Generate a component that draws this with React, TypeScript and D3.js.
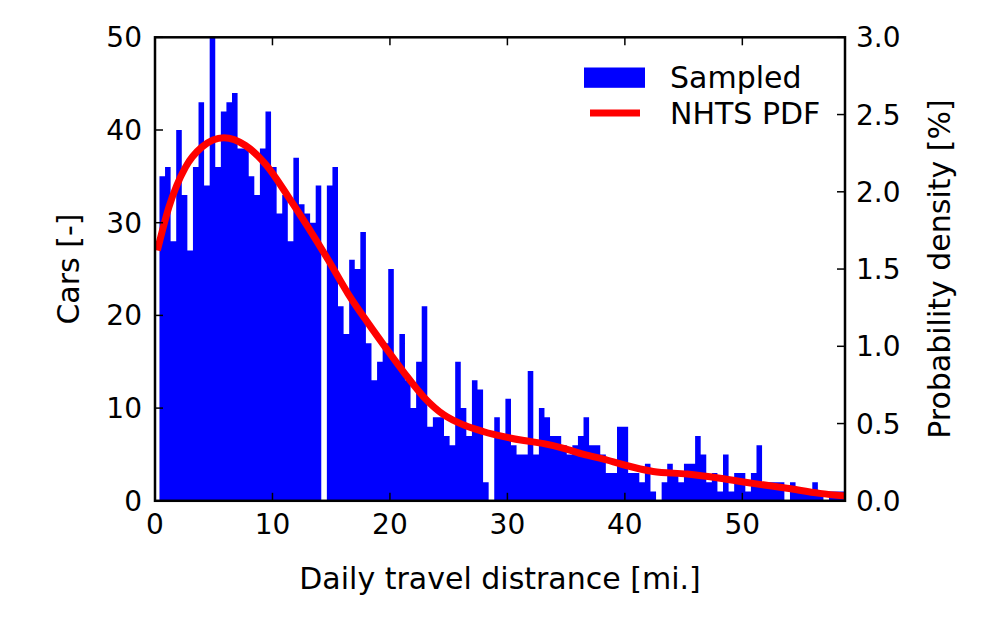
import React from "react";
import * as d3 from "d3";

// Histogram: counts per bin (bins start at BIN_START, width BIN_WIDTH, miles)
const BIN_START = 0.38;
const BIN_WIDTH = 0.475;
const counts: number[] = [
  35, 36, 28, 40, 33, 27, 36, 43, 34, 50, 36, 42, 43, 44, 38, 38, 35, 33, 38, 42,
  36, 31, 33, 28, 37, 32, 31, 30, 34, 0, 34, 36, 21, 18, 26, 25, 29, 17, 13, 15,
  17, 25, 15, 18, 13, 10, 15, 21, 8, 9, 9, 7, 6, 15, 10, 7, 13, 12, 2, 0,
  9, 7, 11, 6, 5, 5, 14, 5, 10, 9, 7, 7, 6, 5, 6, 7, 9, 6, 6, 5,
  3, 3, 8, 8, 3, 3, 2, 4, 1, 0, 2, 4, 3, 2, 4, 4, 7, 5, 2, 3,
  1, 5, 1, 3, 3, 1, 3, 6, 2, 2, 2, 2, 0, 2, 1, 1, 1, 2, 1, 0, 1, 1, 1,
];

// NHTS PDF (% probability density) sampled along distance (mi)
const pdfMiles: number[] = [
  0.2, 1.18, 2.6, 4.0, 5.86, 7.7, 9.5, 11.33, 13.04, 14.74, 16.44, 18.14, 19.6,
  21.2, 22.9, 24.6, 26.3, 28.0, 29.7, 31.4, 33.1, 34.8, 36.5, 38.2, 39.8, 42.4,
  45.3, 48.1, 50.9, 53.8, 56.6, 58.74,
];
const pdfValues: number[] = [
  1.62, 1.9, 2.16, 2.29, 2.35, 2.3, 2.17, 1.97, 1.77, 1.56, 1.34, 1.15, 0.995,
  0.83, 0.67, 0.556, 0.49, 0.447, 0.415, 0.39, 0.37, 0.34, 0.3, 0.27, 0.235,
  0.19, 0.173, 0.146, 0.113, 0.081, 0.048, 0.031,
];

const xTicks = [0, 10, 20, 30, 40, 50];
const yLeftTicks = [0, 10, 20, 30, 40, 50];
const yRightTicks = [0, 0.5, 1.0, 1.5, 2.0, 2.5, 3.0];

const X_MAX = 58.74;
const LEFT = 155;
const RIGHT = 845;
const TOP = 37.3;
const BOTTOM = 500.8;

const FONT = "DejaVu Sans, sans-serif";
const BLUE = "#0000ff";
const RED = "#ff0000";

export default function App() {
  const x = d3.scaleLinear().domain([0, X_MAX]).range([LEFT, RIGHT]);
  const yL = d3.scaleLinear().domain([0, 50]).range([BOTTOM, TOP]);
  const yR = d3.scaleLinear().domain([0, 3]).range([BOTTOM, TOP]);

  const line = d3
    .line<number>()
    .x((_, i) => x(pdfMiles[i]))
    .y((d) => yR(d))
    .curve(d3.curveMonotoneX);

  const steps: [number, number][] = counts.map((c, i) => [BIN_START + i * BIN_WIDTH, c]);
  steps.push([BIN_START + counts.length * BIN_WIDTH, counts[counts.length - 1]]);
  const area = d3
    .area<[number, number]>()
    .x((d) => x(d[0]))
    .y0(BOTTOM)
    .y1((d) => yL(d[1]))
    .curve(d3.curveStepAfter);

  const tickLen = 8;
  const fs = 28;
  const fl = 30;

  return (
    <svg
      width={998}
      height={617}
      style={{ position: "absolute", left: 0, top: 0, background: "#fff" }}
    >
      <defs>
        <clipPath id="plot">
          <rect x={LEFT} y={TOP} width={RIGHT - LEFT} height={BOTTOM - TOP} />
        </clipPath>
      </defs>
      <g clipPath="url(#plot)">
        <path d={area(steps) || ""} fill={BLUE} />
        <path
          d={line(pdfValues) || ""}
          fill="none"
          stroke={RED}
          strokeWidth={7}
          strokeLinejoin="round"
        />
      </g>
      {/* spines */}
      <rect
        x={LEFT}
        y={TOP}
        width={RIGHT - LEFT}
        height={BOTTOM - TOP}
        fill="none"
        stroke="#000"
        strokeWidth={2.5}
      />
      {/* x ticks */}
      {xTicks.map((t) => (
        <g key={"x" + t}>
          <line x1={x(t)} x2={x(t)} y1={BOTTOM} y2={BOTTOM - tickLen} stroke="#000" strokeWidth={1.5} />
          <line x1={x(t)} x2={x(t)} y1={TOP} y2={TOP + tickLen} stroke="#000" strokeWidth={1.5} />
          <text
            x={x(t)}
            y={BOTTOM + 33}
            textAnchor="middle"
            fontFamily={FONT}
            fontSize={fs}
            fill="#000"
          >
            {t}
          </text>
        </g>
      ))}
      {yLeftTicks.map((t) => (
        <g key={"yl" + t}>
          <line x1={LEFT} x2={LEFT + tickLen} y1={yL(t)} y2={yL(t)} stroke="#000" strokeWidth={1.5} />
          <text
            x={LEFT - 13}
            y={yL(t)}
            dy="0.36em"
            textAnchor="end"
            fontFamily={FONT}
            fontSize={fs}
            fill="#000"
          >
            {t}
          </text>
        </g>
      ))}
      {yRightTicks.map((t) => (
        <g key={"yr" + t}>
          <line x1={RIGHT} x2={RIGHT - tickLen} y1={yR(t)} y2={yR(t)} stroke="#000" strokeWidth={1.5} />
          <text
            x={RIGHT + 11}
            y={yR(t)}
            dy="0.36em"
            textAnchor="start"
            fontFamily={FONT}
            fontSize={fs}
            fill="#000"
          >
            {t.toFixed(1)}
          </text>
        </g>
      ))}
      {/* axis titles */}
      <text
        x={(LEFT + RIGHT) / 2 - 0}
        y={589}
        textAnchor="middle"
        fontFamily={FONT}
        fontSize={fl}
        fill="#000"
      >
        Daily travel distrance [mi.]
      </text>
      <text
        transform={`translate(79, ${(TOP + BOTTOM) / 2}) rotate(-90)`}
        textAnchor="middle"
        fontFamily={FONT}
        fontSize={fl}
        fill="#000"
      >
        Cars [-]
      </text>
      <text
        transform={`translate(950, ${(TOP + BOTTOM) / 2}) rotate(-90)`}
        textAnchor="middle"
        fontFamily={FONT}
        fontSize={fl}
        fill="#000"
      >
        Probability density [%]
      </text>
      {/* legend */}
      <rect x={584} y={67.5} width={61} height={20.3} fill={BLUE} />
      <line x1={590} x2={640} y1={113} y2={113} stroke={RED} strokeWidth={7} />
      <text x={670} y={88} fontFamily={FONT} fontSize={fl} fill="#000">
        Sampled
      </text>
      <text x={670} y={123.5} fontFamily={FONT} fontSize={fl} fill="#000">
        NHTS PDF
      </text>
    </svg>
  );
}
